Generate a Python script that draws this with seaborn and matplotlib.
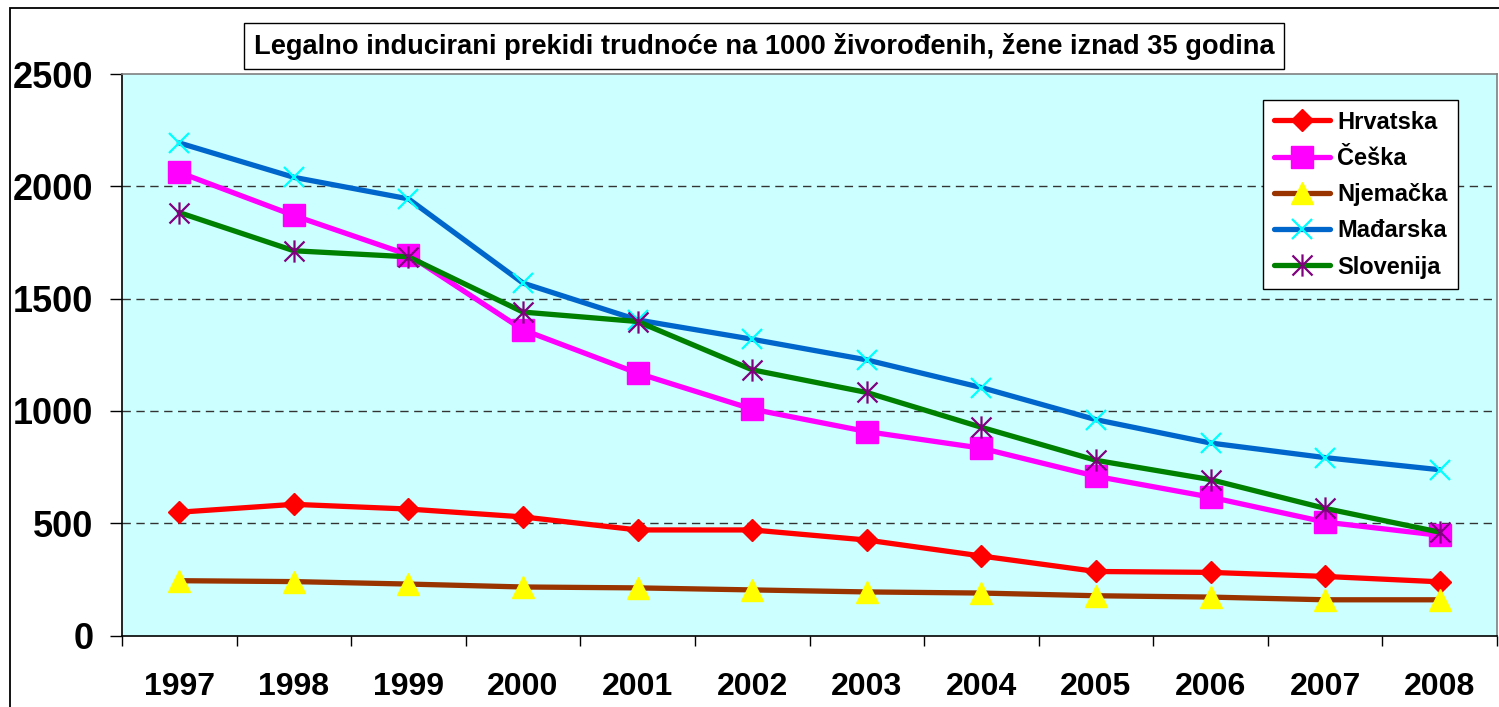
import numpy as np
import pandas as pd
import seaborn as sns
import matplotlib
matplotlib.use("Agg")
import matplotlib.pyplot as plt
from matplotlib.path import Path
from matplotlib.patches import Rectangle

# podaci procitani sa slike
godine = [1997, 1998, 1999, 2000, 2001, 2002, 2003, 2004, 2005, 2006, 2007, 2008]
hrvatska = [549, 584, 563, 528, 470, 470, 425, 354, 285, 281, 263, 239]
ceska = [2062, 1870, 1695, 1361, 1168, 1008, 908, 834, 709, 616, 505, 446]
njemacka = [244, 240, 229, 216, 212, 203, 194, 189, 177, 171, 159, 159]
madarska = [2193, 2040, 1944, 1569, 1405, 1319, 1227, 1104, 961, 857, 792, 738]
slovenija = [1883, 1713, 1686, 1440, 1398, 1183, 1082, 927, 780, 694, 566, 460]
drzave = ["Hrvatska", "Češka", "Njemačka", "Mađarska", "Slovenija"]
naslov = "Legalno inducirani prekidi trudnoće na 1000 živorođenih, žene iznad 35 godina"

df = pd.DataFrame({"godina": godine * 5,
                   "vrijednost": hrvatska + ceska + njemacka + madarska + slovenija,
                   "drzava": np.repeat(drzave, len(godine))})

# zvjezdica kao u Excelu (X + okomita crta)
zvjezdica = Path([(0, -1), (0, 1), (-0.9, -0.9), (0.9, 0.9), (-0.9, 0.9), (0.9, -0.9)],
                 [Path.MOVETO, Path.LINETO] * 3)

stilovi = {
    "Hrvatska": dict(color="#FF0000", marker="D", ms=11, mfc="#FF0000", mec="#FF0000", mew=1),
    "Češka": dict(color="#FF00FF", marker="s", ms=16, mfc="#FF00FF", mec="#FF00FF", mew=1),
    "Njemačka": dict(color="#993300", marker="^", ms=16, mfc="#FFFF00", mec="#FFFF00", mew=1),
    "Mađarska": dict(color="#0066CC", marker="x", ms=15, mfc="#00FFFF", mec="#00FFFF", mew=1.6),
    "Slovenija": dict(color="#008000", marker=zvjezdica, ms=16, mfc="#800080", mec="#800080", mew=1.6),
}

sns.set_style("ticks")
plt.rcParams["font.family"] = ["Liberation Sans", "DejaVu Sans"]
plt.rcParams["font.weight"] = "bold"
plt.rcParams["text.color"] = "black"
plt.rcParams["xtick.labelcolor"] = "black"
plt.rcParams["ytick.labelcolor"] = "black"

fig = plt.figure(figsize=(14.99, 7.07), dpi=100)
ax = fig.add_axes([122 / 1499, 1 - 635.5 / 707, 1375 / 1499, 561.5 / 707])
ax.set_facecolor("#CCFFFF")

for d in drzave:
    sns.lineplot(data=df[df["drzava"] == d], x="godina", y="vrijednost", ax=ax,
                 lw=3.8, label=d, **stilovi[d])

ax.set_xlim(1996.5, 2008.5)
ax.set_ylim(0, 2500)
ax.set_yticks([0, 500, 1000, 1500, 2000, 2500])
ax.set_yticklabels([str(v) for v in [0, 500, 1000, 1500, 2000, 2500]], fontsize=26,
                   fontweight="bold", color="black")
ax.set_xticks(godine)
ax.set_xticklabels([str(g) for g in godine], fontsize=23, fontweight="bold", color="black")
ax.set_xticks(np.arange(1996.5, 2009, 1), minor=True)
ax.tick_params(axis="x", which="major", length=0, pad=26)
ax.tick_params(axis="x", which="minor", length=7, width=1, color="black", direction="out")
ax.tick_params(axis="y", length=8.5, width=1, color="black", direction="out", pad=12)
ax.set_xlabel("")
ax.set_ylabel("")

for v in [500, 1000, 1500, 2000]:
    ax.axhline(v, color="#333333", lw=1, ls=(0, (6, 4)), zorder=0.5)

for s in ["top", "right"]:
    ax.spines[s].set_color("#808080")
    ax.spines[s].set_linewidth(1.2)
for s in ["left", "bottom"]:
    ax.spines[s].set_color("black")
    ax.spines[s].set_linewidth(1.2)

leg = ax.legend(loc="upper left", bbox_to_anchor=(1263 / 1499, 1 - 100 / 707),
                bbox_transform=fig.transFigure, frameon=True, fancybox=False,
                prop={"size": 17, "weight": "bold"}, handlelength=2.4,
                labelspacing=0.56, borderpad=0.45, handletextpad=0.3, borderaxespad=0)
leg.get_frame().set_edgecolor("black")
leg.get_frame().set_linewidth(1)
leg.get_frame().set_facecolor("white")
leg.get_frame().set_alpha(1)
for t in leg.get_texts():
    t.set_color("black")

fig.text(764 / 1499, 1 - 46 / 707, naslov, ha="center", va="center",
         fontsize=19.6, fontweight="bold", color="black",
         bbox=dict(boxstyle="square,pad=0.36", fc="white", ec="black", lw=1))

# okvir grafikona
fig.patches.append(Rectangle((10 / 1499, -0.1), 1.2, 1 - 8 / 707 + 0.1, transform=fig.transFigure,
                             fill=False, ec="black", lw=1.3))

fig.savefig("out.png", dpi=100)
